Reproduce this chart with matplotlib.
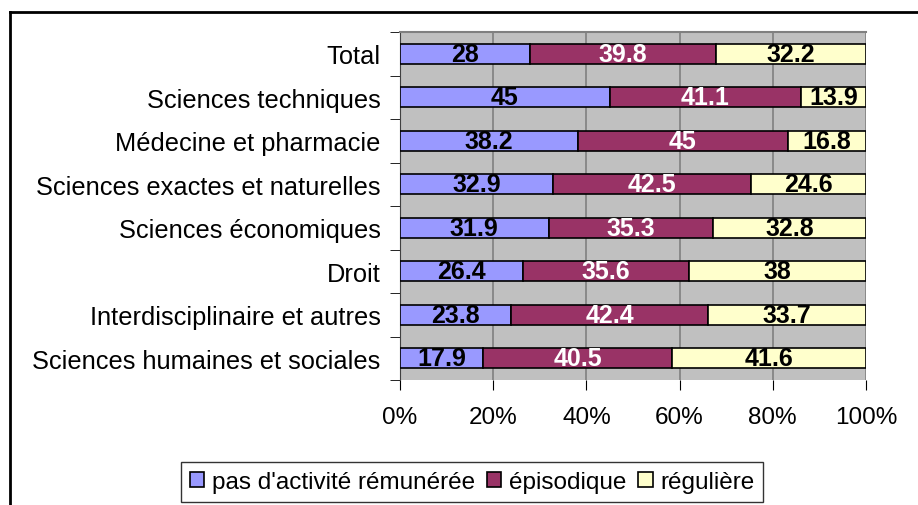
import matplotlib.pyplot as plt
from matplotlib.lines import Line2D
import numpy as np

plt.rcParams['font.family'] = ['Liberation Sans', 'DejaVu Sans']

# données (de bas en haut)
categories = ["Sciences humaines et sociales", "Interdisciplinaire et autres", "Droit",
              "Sciences économiques", "Sciences exactes et naturelles",
              "Médecine et pharmacie", "Sciences techniques", "Total"]
pas_activite = [17.9, 23.8, 26.4, 31.9, 32.9, 38.2, 45, 28]
episodique = [40.5, 42.4, 35.6, 35.3, 42.5, 45, 41.1, 39.8]
reguliere = [41.6, 33.7, 38, 32.8, 24.6, 16.8, 13.9, 32.2]
series_names = ["pas d'activité rémunérée", "épisodique", "régulière"]
colors = ['#9999FF', '#993366', '#FFFFCC']
label_colors = ['black', 'white', 'black']

fig = plt.figure(figsize=(9.18, 5.06), dpi=100)
ax = fig.add_axes([400/918, 1-381/506, 466/918, 348/506])
ax.set_facecolor('#C0C0C0')

y = np.arange(len(categories))
left = np.zeros(len(categories))
for vals, name, c, lc in zip([pas_activite, episodique, reguliere], series_names, colors, label_colors):
    vals = np.array(vals)
    ax.barh(y, vals, left=left, height=0.46, color=c, edgecolor='black', linewidth=1.2,
            label=name, zorder=3)
    for yi, l, v in zip(y, left, vals):
        ax.text(l + v/2, yi, f"{v:g}", ha='center', va='center', fontsize=18,
                fontweight='bold', color=lc, zorder=4)
    left = left + vals

ax.set_xlim(0, 100)
ax.set_ylim(-0.5, len(categories) - 0.5)
ax.set_xticks(np.arange(0, 101, 20))
ax.set_xticklabels([f"{t}%" for t in range(0, 101, 20)], fontsize=17.5)
ax.set_yticks(y)
ax.set_yticklabels(categories, fontsize=18.3)
ax.tick_params(axis='y', length=0, pad=14)
ax.set_yticks(np.arange(-0.5, len(categories), 1), minor=True)
ax.tick_params(axis='y', which='minor', length=7, direction='out', color='black')
ax.tick_params(axis='x', length=7, direction='out', pad=12)
ax.xaxis.grid(True, color='#808080', linewidth=1.2, zorder=0)
ax.set_axisbelow(True)
for s in ['right', 'bottom']:
    ax.spines[s].set_visible(False)
ax.spines['top'].set_color('#808080')
ax.spines['top'].set_linewidth(1.5)
ax.spines['left'].set_color('#404040')

leg = fig.legend(loc='center', bbox_to_anchor=(472/918, 1-483/506), ncol=3, fontsize=17.5,
                 frameon=True, fancybox=False, edgecolor='black', handlelength=0.6,
                 handleheight=0.6, handletextpad=0.3, columnspacing=0.5, borderpad=0.35)
leg.get_frame().set_linewidth(1.0)

# cadre extérieur
fig.add_artist(Line2D([10/918, 10/918], [0, 1-13/506], transform=fig.transFigure, color='black', lw=2))
fig.add_artist(Line2D([10/918, 1], [1-13/506, 1-13/506], transform=fig.transFigure, color='black', lw=2))

fig.savefig('out.png', dpi=100)
